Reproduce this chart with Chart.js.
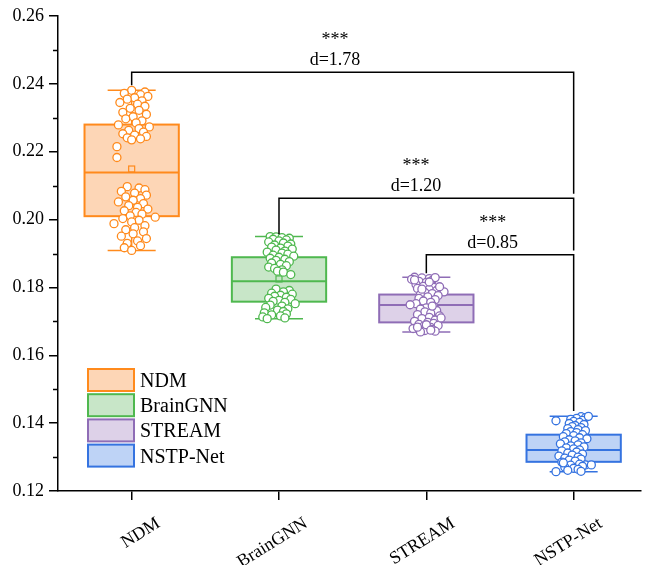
<!DOCTYPE html>
<html>
<head>
<meta charset="utf-8">
<script src="https://cdn.jsdelivr.net/npm/chart.js@4/dist/chart.umd.min.js"></script>
<style>
  html, body { margin: 0; padding: 0; background: #ffffff; }
  canvas { display: block; }
</style>
</head>
<body>
<canvas id="chart" width="646" height="565"></canvas>
<script>
// Model names along the x axis
const categories = ['NDM', 'BrainGNN', 'STREAM', 'NSTP-Net'];

// Box statistics per model
const boxMin    = [0.1909, 0.1708, 0.1669, 0.1257];
const boxQ1     = [0.2010, 0.1758, 0.1697, 0.1286];
const boxMedian = [0.2139, 0.1818, 0.1748, 0.1321];
const boxQ3     = [0.2280, 0.1889, 0.1779, 0.1366];
const boxMax    = [0.2381, 0.1950, 0.1830, 0.1420];
const boxMean   = [0.2149, 0.1825, 0.1750, 0.1334];

// Individual scores per model, with the horizontal spread of each dot
const ndmValues = [
  0.2381, 0.2376, 0.2372, 0.2368, 0.2363, 0.2359, 0.2355, 0.2350, 0.2345, 0.2340,
  0.2334, 0.2328, 0.2322, 0.2316, 0.2310, 0.2303, 0.2297, 0.2291, 0.2285, 0.2279,
  0.2273, 0.2268, 0.2263, 0.2258, 0.2253, 0.2249, 0.2245, 0.2241, 0.2238, 0.2235,
  0.2215, 0.2183,
  0.2097, 0.2093, 0.2088, 0.2083, 0.2078, 0.2072, 0.2067, 0.2062, 0.2057, 0.2052,
  0.2047, 0.2041, 0.2036, 0.2031, 0.2026, 0.2021, 0.2016, 0.2011, 0.2007, 0.2003,
  0.1998, 0.1993, 0.1988, 0.1982, 0.1976, 0.1970, 0.1964, 0.1958, 0.1951, 0.1944,
  0.1937, 0.1930, 0.1923, 0.1917, 0.1909
];
const ndmJitter = [
  0.00, 0.09, -0.05, 0.06, 0.11, 0.02, -0.03, 0.07, -0.08, 0.04,
  0.09, -0.01, 0.05, -0.06, 0.10, 0.01, -0.04, 0.07, 0.03, -0.09,
  0.12, 0.05, -0.02, 0.08, -0.06, 0.02, 0.10, -0.03, 0.06, 0.00,
  -0.10, -0.10,
  -0.03, 0.05, 0.09, -0.07, 0.02, 0.10, -0.04, 0.06, 0.01, -0.09,
  0.08, -0.02, 0.04, 0.11, -0.05, 0.03, 0.07, -0.01, 0.16, -0.06,
  0.05, 0.00, -0.12, 0.09, 0.02, -0.04, 0.08, 0.01, -0.07, 0.10,
  0.04, -0.03, 0.06, -0.05, 0.00
];

const brainGnnValues = [
  0.1950, 0.1949, 0.1947, 0.1945, 0.1942, 0.1940, 0.1937, 0.1934, 0.1931, 0.1928,
  0.1925, 0.1922, 0.1919, 0.1916, 0.1913, 0.1910, 0.1907, 0.1904, 0.1901, 0.1898,
  0.1895, 0.1892, 0.1889, 0.1886, 0.1883, 0.1880, 0.1876, 0.1872, 0.1868,
  0.1864, 0.1860, 0.1856, 0.1852, 0.1848, 0.1845, 0.1838,
  0.1795, 0.1791, 0.1787, 0.1783, 0.1780, 0.1777, 0.1774, 0.1771, 0.1768, 0.1765,
  0.1762, 0.1759, 0.1756, 0.1752, 0.1748, 0.1745, 0.1741, 0.1737, 0.1733, 0.1729,
  0.1725, 0.1722, 0.1719, 0.1716, 0.1713, 0.1710, 0.1708
];
const brainGnnJitter = [
  -0.06, -0.02, 0.02, 0.07, -0.04, 0.05, 0.00, -0.07, 0.03, 0.08,
  -0.03, 0.06, -0.05, 0.01, 0.09, -0.02, 0.04, -0.08, 0.02, 0.06,
  -0.04, 0.10, 0.00, -0.06, 0.04, -0.02, 0.07, -0.05, 0.01,
  0.05, -0.07, -0.03, 0.02, -0.01, 0.03, 0.08,
  -0.02, 0.07, 0.03, -0.05, 0.09, 0.01, -0.03, 0.05, -0.07, 0.08,
  0.00, -0.04, 0.04, 0.11, -0.06, 0.02, -0.09, 0.06, -0.01, 0.03,
  -0.10, 0.05, -0.05, 0.01, -0.11, 0.04, -0.08
];

const streamValues = [
  0.1830, 0.1828, 0.1826, 0.1824, 0.1821, 0.1818, 0.1815, 0.1812, 0.1809, 0.1806,
  0.1803, 0.1800, 0.1797, 0.1794, 0.1791, 0.1787, 0.1785, 0.1782, 0.1779, 0.1776,
  0.1772, 0.1768, 0.1764, 0.1760, 0.1756, 0.1752, 0.1749, 0.1744, 0.1740, 0.1736,
  0.1732, 0.1728, 0.1724, 0.1720, 0.1716, 0.1712, 0.1708, 0.1704, 0.1700, 0.1697,
  0.1694, 0.1691, 0.1688, 0.1685, 0.1682, 0.1679, 0.1676, 0.1673, 0.1671, 0.1669,
  0.1829, 0.1822, 0.1802, 0.1690, 0.1674, 0.1683, 0.1710, 0.1745, 0.1795, 0.1816
];
const streamJitter = [
  -0.08, -0.03, 0.02, -0.10, 0.04, -0.05, 0.00, 0.03, -0.07, 0.01,
  -0.02, 0.05, -0.06, 0.02, 0.07, 0.12, -0.01, 0.04, -0.04, 0.08,
  0.01, -0.05, 0.06, -0.02, 0.03, -0.07, -0.11, 0.05, 0.00, -0.04,
  0.07, -0.01, 0.03, -0.06, 0.09, 0.02, -0.03, 0.06, -0.08, 0.01,
  0.05, -0.05, 0.08, -0.02, 0.03, -0.09, 0.04, -0.01, 0.06, -0.04,
  0.06, -0.08, 0.09, 0.00, 0.03, -0.06, 0.10, 0.04, -0.03, 0.02
];

const nstpValues = [
  0.1419, 0.1407, 0.1416, 0.1414, 0.1411, 0.1408, 0.1405, 0.1402, 0.1399, 0.1396,
  0.1393, 0.1390, 0.1387, 0.1384, 0.1381, 0.1378, 0.1375, 0.1372, 0.1369, 0.1366,
  0.1363, 0.1360, 0.1357, 0.1354, 0.1351, 0.1348, 0.1345, 0.1342, 0.1339, 0.1336,
  0.1333, 0.1330, 0.1327, 0.1324, 0.1321, 0.1318, 0.1315, 0.1312, 0.1309, 0.1306,
  0.1303, 0.1300, 0.1297, 0.1294, 0.1291, 0.1288, 0.1285, 0.1277, 0.1277, 0.1279,
  0.1276, 0.1273, 0.1270, 0.1267, 0.1264, 0.1261, 0.1258, 0.1257, 0.1420, 0.1283
];
const nstpJitter = [
  0.05, -0.12, 0.08, 0.02, -0.02, 0.06, 0.00, 0.04, -0.03, 0.07,
  0.01, -0.01, 0.05, -0.04, 0.03, 0.08, -0.02, 0.02, -0.05, 0.06,
  0.00, -0.07, 0.04, 0.09, -0.03, 0.01, -0.06, 0.05, -0.09, 0.03,
  -0.02, 0.07, -0.05, 0.00, 0.04, -0.08, 0.02, -0.04, 0.06, -0.01,
  -0.10, 0.03, -0.06, 0.05, -0.03, 0.01, -0.08, 0.08, 0.12, 0.04,
  -0.02, 0.06, -0.06, 0.00, 0.03, -0.04, 0.05, -0.12, 0.10, -0.07
];

// Pairwise comparisons against NSTP-Net
const comparePairs = [[0, 3], [1, 3], [2, 3]];
const significance = ['***', '***', '***'];
const effectSizes  = ['d=1.78', 'd=1.20', 'd=0.85'];

// Y axis tick values
const yTicks = [0.12, 0.14, 0.16, 0.18, 0.20, 0.22, 0.24, 0.26];

const groupValues = [ndmValues, brainGnnValues, streamValues, nstpValues];
const groupJitter = [ndmJitter, brainGnnJitter, streamJitter, nstpJitter];

const strokeColors = ['#FF8A1C', '#4FB84F', '#8F6DB6', '#3573E0'];
const fillColors   = ['#FDD6B6', '#C8E6C8', '#DDD1E8', '#BED3F6'];

const SERIF = '"Liberation Serif", "Times New Roman", serif';

// Bracket geometry (y in data units, label x in category units)
const bracketStyle = [
  { top: 0.2434, leftEnd: 0.2396, rightEnd: 0.2076, labelX: 1.38 },
  { top: 0.2063, leftEnd: 0.1957, rightEnd: 0.1909, labelX: 1.93 },
  { top: 0.1896, leftEnd: 0.1842, rightEnd: 0.1436, labelX: 2.45 }
];

const boxPlugin = {
  id: 'boxes',
  beforeDatasetsDraw(chart) {
    const { ctx, scales: { x, y } } = chart;
    const halfBox = 0.32, halfCap = 0.163;
    ctx.save();
    categories.forEach((_, i) => {
      const cx = x.getPixelForValue(i);
      const xl = x.getPixelForValue(i - halfBox);
      const xr = x.getPixelForValue(i + halfBox);
      const cl = x.getPixelForValue(i - halfCap);
      const cr = x.getPixelForValue(i + halfCap);
      const yq1 = y.getPixelForValue(boxQ1[i]);
      const yq3 = y.getPixelForValue(boxQ3[i]);
      const ymed = y.getPixelForValue(boxMedian[i]);
      const ymin = y.getPixelForValue(boxMin[i]);
      const ymax = y.getPixelForValue(boxMax[i]);
      const ymean = y.getPixelForValue(boxMean[i]);
      ctx.strokeStyle = strokeColors[i];
      // whiskers and caps
      ctx.lineWidth = 1.5;
      ctx.beginPath();
      ctx.moveTo(cx, yq3); ctx.lineTo(cx, ymax);
      ctx.moveTo(cx, yq1); ctx.lineTo(cx, ymin);
      ctx.moveTo(cl, ymax); ctx.lineTo(cr, ymax);
      ctx.moveTo(cl, ymin); ctx.lineTo(cr, ymin);
      ctx.stroke();
      // box
      ctx.fillStyle = fillColors[i];
      ctx.fillRect(xl, yq3, xr - xl, yq1 - yq3);
      ctx.lineWidth = 2;
      ctx.strokeRect(xl, yq3, xr - xl, yq1 - yq3);
      // median
      ctx.beginPath();
      ctx.moveTo(xl, ymed); ctx.lineTo(xr, ymed);
      ctx.stroke();
      // mean marker
      ctx.lineWidth = 1.2;
      ctx.strokeRect(cx - 3, ymean - 3, 6, 6);
    });
    ctx.restore();
  }
};

const annotatePlugin = {
  id: 'annotate',
  afterDatasetsDraw(chart) {
    const { ctx, chartArea, scales: { x, y } } = chart;
    ctx.save();

    // minor ticks on the y axis
    ctx.strokeStyle = '#000';
    ctx.lineWidth = 1.5;
    ctx.beginPath();
    for (let k = 0; k < yTicks.length - 1; k++) {
      const py = Math.round(y.getPixelForValue((yTicks[k] + yTicks[k + 1]) / 2)) + 0.5;
      ctx.moveTo(chartArea.left - 5, py);
      ctx.lineTo(chartArea.left, py);
    }
    ctx.stroke();

    // significance brackets
    comparePairs.forEach(([a, b], k) => {
      const g = bracketStyle[k];
      const xa = x.getPixelForValue(a);
      const xb = x.getPixelForValue(b);
      const yt = y.getPixelForValue(g.top);
      ctx.strokeStyle = '#000';
      ctx.lineWidth = 1.5;
      ctx.beginPath();
      ctx.moveTo(xa, y.getPixelForValue(g.leftEnd));
      ctx.lineTo(xa, yt);
      ctx.lineTo(xb, yt);
      ctx.lineTo(xb, y.getPixelForValue(g.rightEnd));
      ctx.stroke();
      const lx = x.getPixelForValue(g.labelX);
      ctx.fillStyle = '#000';
      ctx.textAlign = 'center';
      ctx.textBaseline = 'alphabetic';
      ctx.font = '18px ' + SERIF;
      ctx.fillText(effectSizes[k], lx, yt - 7);
      ctx.fillText(significance[k], lx, yt - 27);
    });

    // rotated category labels
    ctx.font = '18px ' + SERIF;
    ctx.fillStyle = '#000';
    ctx.textAlign = 'right';
    ctx.textBaseline = 'middle';
    categories.forEach((name, i) => {
      const px = x.getPixelForValue(i);
      ctx.save();
      ctx.translate(px + 27, chartArea.bottom + 31);
      ctx.rotate(-32 * Math.PI / 180);
      ctx.fillText(name, 0, 0);
      ctx.restore();
    });

    // legend
    const lx = chartArea.left + 30;
    const ly = 369;
    ctx.font = '20px ' + SERIF;
    ctx.textAlign = 'left';
    ctx.textBaseline = 'alphabetic';
    categories.forEach((name, i) => {
      const top = ly + i * 25.2;
      ctx.fillStyle = fillColors[i];
      ctx.fillRect(lx, top, 46, 22);
      ctx.strokeStyle = strokeColors[i];
      ctx.lineWidth = 2;
      ctx.strokeRect(lx, top, 46, 22);
      ctx.fillStyle = '#000';
      ctx.fillText(name, lx + 52, top + 18);
    });
    ctx.restore();
  }
};

new Chart(document.getElementById('chart'), {
  type: 'scatter',
  data: {
    datasets: categories.map((name, i) => ({
      label: name,
      data: groupValues[i].map((v, k) => ({ x: i + groupJitter[i][k], y: v })),
      pointRadius: 4,
      pointHoverRadius: 4,
      pointBorderWidth: 1.3,
      borderColor: strokeColors[i],
      backgroundColor: '#ffffff'
    }))
  },
  options: {
    responsive: false,
    animation: false,
    devicePixelRatio: 1,
    events: [],
    layout: { padding: { top: 16, right: 0, bottom: 0, left: 0 } },
    plugins: {
      legend: { display: false },
      tooltip: { enabled: false }
    },
    scales: {
      x: {
        type: 'linear',
        min: -0.5,
        max: 3.455,
        afterBuildTicks: s => { s.ticks = categories.map((_, i) => ({ value: i })); },
        afterFit: s => { s.height = 74; },
        ticks: { display: false },
        grid: { display: true, drawOnChartArea: false, drawTicks: true, tickLength: 9, color: '#000', lineWidth: 1.5 },
        border: { display: true, color: '#000', width: 1.5 }
      },
      y: {
        min: 0.12,
        max: 0.26,
        afterBuildTicks: s => { s.ticks = yTicks.map(v => ({ value: v })); },
        afterFit: s => { s.width = 58; },
        ticks: {
          callback: v => Number(v).toFixed(2),
          font: { family: SERIF, size: 18 },
          color: '#000',
          padding: 5
        },
        grid: { display: true, drawOnChartArea: false, drawTicks: true, tickLength: 9, color: '#000', lineWidth: 1.5 },
        border: { display: true, color: '#000', width: 1.5 }
      }
    }
  },
  plugins: [boxPlugin, annotatePlugin]
});
</script>
</body>
</html>
